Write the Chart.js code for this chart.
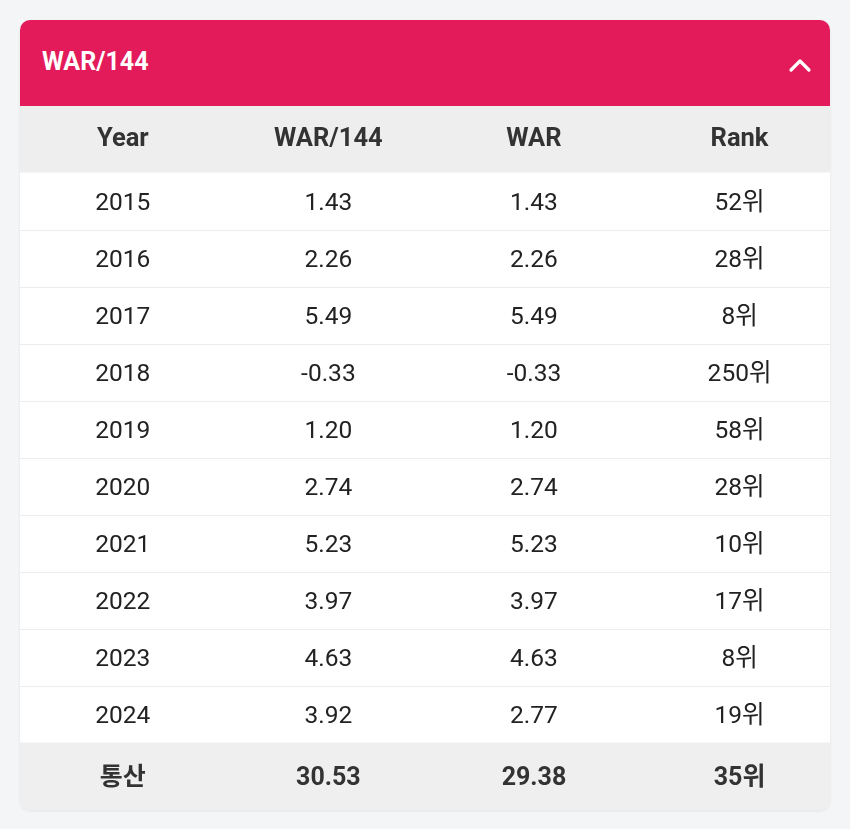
<!DOCTYPE html>
<html>
<head>
<meta charset="utf-8">
<script src="https://cdn.jsdelivr.net/npm/chart.js@4"></script>
<style>
    body { margin: 0; background: #f4f5f7; font-family: Roboto, 'Noto Sans CJK KR', sans-serif; }
    .card {
        position: absolute; left: 20px; top: 20px; width: 810px; height: 790px;
        border-radius: 10px; overflow: hidden; background: #fff;
        box-shadow: 0 1px 3px rgba(0, 0, 0, 0.08);
    }
    .card-head {
        height: 86px; background: #e31b5a; color: #fff; position: relative;
        font-weight: bold; font-size: 25px;
    }
    .card-head .title { position: absolute; left: 22px; top: 27px; }
    .card-head svg { position: absolute; left: 768px; top: 37px; }
    canvas { display: block; }
</style>
</head>
<body>
<div class="card">
    <div class="card-head">
        <span class="title">WAR/144</span>
        <svg width="24" height="16" viewBox="0 0 24 16">
            <polyline points="3,13 12,4 21,13" fill="none" stroke="#fff" stroke-width="3.2" stroke-linecap="round" stroke-linejoin="round"/>
        </svg>
    </div>
    <canvas id="warTable" width="810" height="704"></canvas>
</div>
<script>
// ===================================
// DATA
// ===================================
const columns = ['Year', 'WAR/144', 'WAR', 'Rank'];
const years = ['2015', '2016', '2017', '2018', '2019', '2020', '2021', '2022', '2023', '2024'];
const war144 = [1.43, 2.26, 5.49, -0.33, 1.20, 2.74, 5.23, 3.97, 4.63, 3.92];
const war = [1.43, 2.26, 5.49, -0.33, 1.20, 2.74, 5.23, 3.97, 4.63, 2.77];
const ranks = [52, 28, 8, 250, 58, 28, 10, 17, 8, 19];
const totalLabel = '통산';
const totals = ['30.53', '29.38', '35위'];

// one column of text per dataset
const cellText = [
    years,
    war144.map(v => v.toFixed(2)),
    war.map(v => v.toFixed(2)),
    ranks.map(r => r + '위')
];

const FONT = "Roboto, 'Noto Sans CJK KR', sans-serif";

// draw text so that its cap height is centred on cy
function centeredText(ctx, text, x, cy, size) {
    ctx.fillText(text, x, cy + size * 0.355);
}

/**
 * Draws bands, separators and cell texts from the scales
 */
const tablePlugin = {
    id: 'tablePlugin',
    beforeDatasetsDraw(chart) {
        const { ctx, chartArea, scales: { y } } = chart;
        const headBottom = y.getPixelForValue(-0.5);
        const footTop = y.getPixelForValue(years.length - 0.5);
        ctx.save();
        ctx.fillStyle = '#eeeeee';
        ctx.fillRect(chartArea.left, chartArea.top, chartArea.width, headBottom - chartArea.top);
        ctx.fillStyle = '#efefef';
        ctx.fillRect(chartArea.left, footTop, chartArea.width, chartArea.bottom - footTop);
        ctx.strokeStyle = '#ececec';
        ctx.lineWidth = 1;
        for (let i = 0; i < years.length - 1; i++) {
            const py = Math.round(y.getPixelForValue(i + 0.5)) + 0.5;
            ctx.beginPath();
            ctx.moveTo(chartArea.left, py);
            ctx.lineTo(chartArea.right, py);
            ctx.stroke();
        }
        ctx.restore();
    },
    afterDatasetsDraw(chart) {
        const { ctx, chartArea, scales: { x, y } } = chart;
        const headMid = (chartArea.top + y.getPixelForValue(-0.5)) / 2 - 2;
        const footMid = (y.getPixelForValue(years.length - 0.5) + chartArea.bottom) / 2;
        ctx.save();
        ctx.textAlign = 'center';
        ctx.textBaseline = 'alphabetic';

        // header row
        ctx.font = 'bold 25.5px ' + FONT;
        ctx.fillStyle = '#333333';
        columns.forEach((c, i) => centeredText(ctx, c, x.getPixelForValue(i), headMid, 25.5));

        // body cells
        ctx.font = '24.5px ' + FONT;
        ctx.fillStyle = '#222222';
        chart.data.datasets.forEach((ds, di) => {
            const meta = chart.getDatasetMeta(di);
            meta.data.forEach((pt, i) => {
                centeredText(ctx, ds.text[i], pt.x, pt.y, 24.5);
            });
        });

        // totals row
        ctx.font = 'bold 25px ' + FONT;
        ctx.fillStyle = '#333333';
        [totalLabel, ...totals].forEach((t, i) => centeredText(ctx, t, x.getPixelForValue(i), footMid, 25));
        ctx.restore();
    }
};

new Chart(document.getElementById('warTable'), {
    type: 'scatter',
    data: {
        datasets: columns.map((c, ci) => ({
            label: c,
            data: years.map((yr, ri) => ({ x: ci, y: ri })),
            text: cellText[ci],
            pointRadius: 0,
            pointHoverRadius: 0
        }))
    },
    options: {
        responsive: false,
        animation: false,
        devicePixelRatio: 1,
        layout: { padding: 0 },
        plugins: {
            legend: { display: false },
            tooltip: { enabled: false }
        },
        scales: {
            x: { type: 'linear', display: false, min: -0.5, max: 3.44 },
            y: { type: 'linear', display: false, reverse: true, min: -1.667, max: 10.684 }
        }
    },
    plugins: [tablePlugin]
});
</script>
</body>
</html>
